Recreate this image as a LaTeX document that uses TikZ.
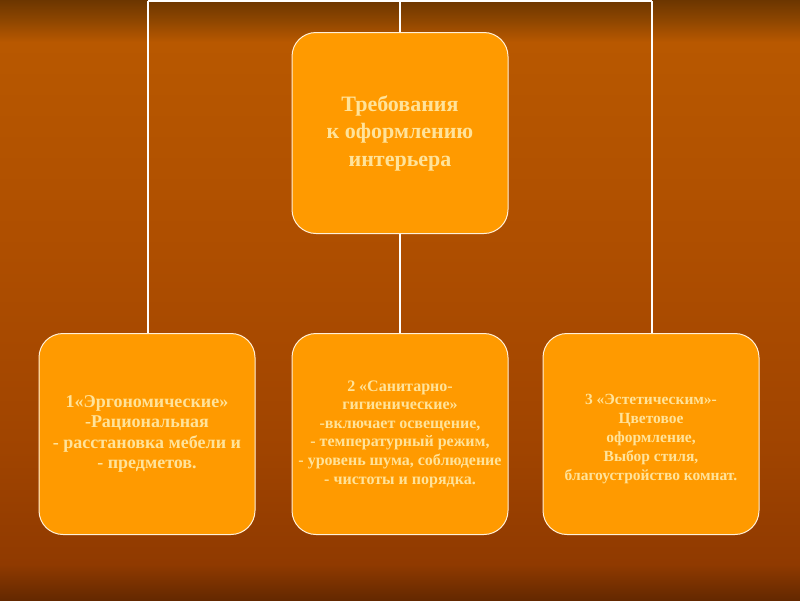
\documentclass[tikz,border=0pt]{standalone}
\usepackage{fontspec}
\setmainfont{Liberation Serif}
\definecolor{boxfill}{HTML}{FF9A00}
\definecolor{boxtext}{HTML}{FFE39A}
\pgfdeclareverticalshading{bgshade}{100bp}{%
  color(0bp)=(rgb,255:red,100;green,40;blue,0);
  color(25bp)=(rgb,255:red,100;green,40;blue,0);
  color(28bp)=(rgb,255:red,144;green,58;blue,0);
  color(37.5bp)=(rgb,255:red,160;green,68;blue,0);
  color(54bp)=(rgb,255:red,174;green,78;blue,0);
  color(71.5bp)=(rgb,255:red,184;green,88;blue,0);
  color(73.3bp)=(rgb,255:red,142;green,70;blue,0);
  color(75bp)=(rgb,255:red,108;green,54;blue,0);
  color(100bp)=(rgb,255:red,108;green,54;blue,0)}
\tikzset{
  reqbox/.style={draw=white!85!boxfill, line width=1pt, fill=boxfill, rounded corners=24pt,
    minimum width=216pt, minimum height=201pt, inner sep=2pt, align=center,
    text=boxtext, font=\bfseries}
}
\begin{document}
\begin{tikzpicture}[x=1pt,y=-1pt]
\shade[shading=bgshade] (0,0) rectangle (800,600);
\useasboundingbox (0,0) rectangle (800,600);

\node[reqbox, font=\bfseries\fontsize{22}{27.5}\selectfont] (top) at (400,133) {Требования\\к оформлению\\интерьера};
\node[reqbox, font=\bfseries\fontsize{18}{20.5}\selectfont] (ergo) at (147,434) {1«Эргономические»\\-Рациональная\\- расстановка мебели и\\- предметов.};
\node[reqbox, font=\bfseries\fontsize{16}{18.6}\selectfont] (sani) at (400,434) {2 «Санитарно-\\гигиенические»\\-включает освещение,\\- температурный режим,\\- уровень шума, соблюдение\\- чистоты и порядка.};
\node[reqbox, font=\bfseries\fontsize{15.5}{19}\selectfont] (este) at (651,434) {\rule{0pt}{20pt}3 «Эстетическим»-\\Цветовое\\ оформление,\\Выбор стиля,\\благоустройство комнат.};

\coordinate (tl) at (148,1);
\coordinate (tm) at (400,1);
\coordinate (tr) at (652,1);

\path[draw,white,line width=1.5pt] (tl) -- (tr);
\path[draw,white,line width=1.5pt] (tl) -- (tl |- ergo.north);
\path[draw,white,line width=1.5pt] (tm) -- (top.north);
\path[draw,white,line width=1.5pt] (top.south) -- (sani.north);
\path[draw,white,line width=1.5pt] (tr) -- (tr |- este.north);
\end{tikzpicture}
\end{document}
